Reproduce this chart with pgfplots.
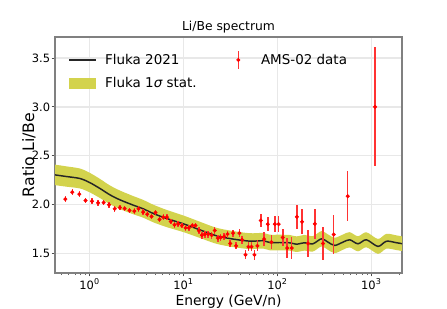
\documentclass[border=0pt]{standalone}
\usepackage{pgfplots}
\usepackage{pgfplotstable}
\pgfplotsset{compat=1.18}
\usepgfplotslibrary{fillbetween}
\usepackage{fontspec}
\setmainfont{DejaVu Sans}
\definecolor{bandcol}{RGB}{211,211,77}
\definecolor{gridcol}{RGB}{232,232,232}
\definecolor{errcol}{RGB}{255,50,50}

\pgfplotstableread{
x y lo hi
0.428 2.304 2.199 2.409
0.569 2.287 2.183 2.391
0.789 2.267 2.165 2.369
1.0 2.226 2.126 2.326
1.288 2.165 2.067 2.263
1.645 2.100 2.004 2.196
2.10 2.049 1.954 2.144
2.92 1.994 1.901 2.087
3.72 1.957 1.866 2.048
4.76 1.909 1.819 1.999
6.59 1.858 1.770 1.946
10 1.803 1.718 1.888
14.9 1.742 1.659 1.825
22.4 1.681 1.599 1.763
33.8 1.647 1.565 1.729
50.8 1.626 1.545 1.707
70.4 1.630 1.550 1.710
82.9 1.612 1.532 1.692
106 1.612 1.532 1.692
135 1.609 1.529 1.689
159 1.595 1.515 1.675
195 1.609 1.529 1.689
239 1.599 1.520 1.678
294 1.650 1.571 1.729
345 1.616 1.537 1.695
407 1.582 1.503 1.661
499 1.616 1.538 1.694
588 1.640 1.562 1.718
720 1.599 1.522 1.676
885 1.640 1.563 1.717
1175 1.572 1.496 1.648
1445 1.625 1.549 1.701
1846 1.610 1.535 1.685
2120 1.600 1.525 1.675
}\fluka

\pgfplotstableread{
x y e
0.551 2.056 0.03
0.654 2.127 0.03
0.776 2.107 0.03
0.906 2.042 0.03
1.06 2.035 0.03
1.23 2.018 0.03
1.41 2.021 0.03
1.61 1.998 0.03
1.85 1.957 0.03
2.10 1.970 0.03
2.36 1.960 0.03
2.66 1.940 0.03
2.99 1.933 0.03
3.32 1.957 0.03
3.72 1.923 0.03
4.11 1.902 0.03
4.57 1.878 0.03
5.03 1.919 0.03
5.55 1.848 0.03
6.08 1.871 0.03
6.65 1.871 0.03
7.33 1.827 0.03
8.02 1.793 0.03
8.77 1.803 0.03
9.60 1.786 0.03
10.5 1.762 0.03
11.4 1.762 0.03
12.4 1.786 0.03
13.4 1.786 0.03
14.6 1.732 0.035
15.7 1.687 0.035
16.9 1.698 0.035
18.3 1.698 0.035
19.9 1.687 0.035
21.5 1.735 0.035
23.2 1.657 0.035
24.9 1.664 0.035
27.1 1.674 0.035
29.4 1.698 0.035
31.4 1.602 0.035
33.7 1.708 0.035
36.3 1.578 0.035
39.4 1.708 0.04
42.1 1.640 0.04
45.7 1.486 0.045
49.1 1.568 0.045
52.9 1.568 0.045
56.9 1.486 0.05
61.2 1.578 0.055
66.5 1.837 0.065
72.1 1.647 0.07
78.9 1.800 0.07
86.3 1.616 0.075
93.7 1.800 0.085
103 1.800 0.085
114 1.664 0.09
127 1.555 0.1
142 1.555 0.11
161 1.875 0.12
183 1.824 0.13
212 1.602 0.14
250 1.803 0.155
306 1.602 0.17
397 1.694 0.2
560 2.086 0.255
1094 3.000 0.61
}\ams

\pgfplotsset{every axis title shift=0pt}

\begin{document}
\begin{tikzpicture}
\begin{axis}[
  at={(41.25pt,26.25pt)}, anchor=south west,
  width=260.25pt, height=177pt, scale only axis,
  xmode=log, xmin=0.428, xmax=2120, ymin=1.30, ymax=3.715,
  xtick={1,10,100,1000},
  xticklabels={10\textsuperscript{0},10\textsuperscript{1},10\textsuperscript{2},10\textsuperscript{3}},
  minor xtick={0.5,0.6,0.7,0.8,0.9,2,3,4,5,6,7,8,9,20,30,40,50,60,70,80,90,200,300,400,500,600,700,800,900,2000},
  ytick={1.5,2,2.5,3,3.5},
  yticklabels={1.5,2.0,2.5,3.0,3.5},
  xtick pos=left, ytick pos=left,
  tick align=outside, major tick length=2.6pt, minor tick length=1.5pt,
  tick style={black!70, line width=0.6pt},
  minor tick style={black!60, line width=0.5pt},
  grid=major, major grid style={gridcol, line width=1.1pt},
  minor grid style={draw=none},
  axis line style={black!50, line width=0.8pt},
  ticklabel style={font=\fontsize{8.6pt}{10pt}\selectfont},
  xticklabel style={yshift=2pt},
  yticklabel style={xshift=2.5pt},
  title={Li/Be spectrum},
  title style={at={(axis description cs:0.5,1.0267)}, anchor=base, font=\fontsize{9.26pt}{11pt}\selectfont},
  xlabel={Energy (GeV/n)},
  xlabel style={at={(axis description cs:0.5,-0.137)}, anchor=base, font=\fontsize{10.4pt}{12pt}\selectfont},
  ylabel={Ratio Li/Be},
  ylabel style={at={(axis description cs:-0.0605,0.5)}, anchor=base, font=\fontsize{11.8pt}{13pt}\selectfont},
  legend columns=2,
  legend cell align=left,
  legend style={draw=none, fill=none, at={(axis description cs:0.0375,0.943)}, anchor=north west,
    font=\fontsize{10.1pt}{12pt}\selectfont, inner sep=0pt,
    /tikz/every odd column/.append style={column sep=4.5pt},
    /tikz/every even column/.append style={column sep=24.75pt},
    row sep=4pt},
]
\addlegendimage{legend image code/.code={\draw[black!85, line width=1.1pt] (0pt,0pt) -- (20pt,0pt);}}
\addlegendentry{Fluka 2021}
\addlegendimage{legend image code/.code={\path[draw=none] (0pt,0pt) -- (15pt,0pt); \draw[errcol, line width=1.1pt] (4.5pt,-6.4pt) -- (4.5pt,6.4pt); \fill[red] (4.5pt,0pt) circle (1.3pt);}}
\addlegendentry{AMS-02 data}
\addlegendimage{legend image code/.code={\fill[bandcol] (0pt,-4pt) rectangle (20pt,4pt);}}
\addlegendentry{Fluka 1{\itshape σ} stat.}

\addplot[name path=hi, draw=none, smooth, forget plot] table[x=x,y=hi]{\fluka};
\addplot[name path=lo, draw=none, smooth, forget plot] table[x=x,y=lo]{\fluka};
\addplot[bandcol, forget plot] fill between[of=hi and lo];
\addplot[black!85, line width=1.1pt, smooth, forget plot] table[x=x,y=y]{\fluka};
\addplot[only marks, mark=*, mark size=1.3pt, red, forget plot,
  error bars/.cd, y dir=both, y explicit, error mark=none,
  error bar style={errcol, line width=1.1pt, solid}]
  table[x=x,y=y,y error=e]{\ams};
\end{axis}
\pgfresetboundingbox
\useasboundingbox (0,0) rectangle (335.25pt,231pt);
\end{tikzpicture}
\end{document}
